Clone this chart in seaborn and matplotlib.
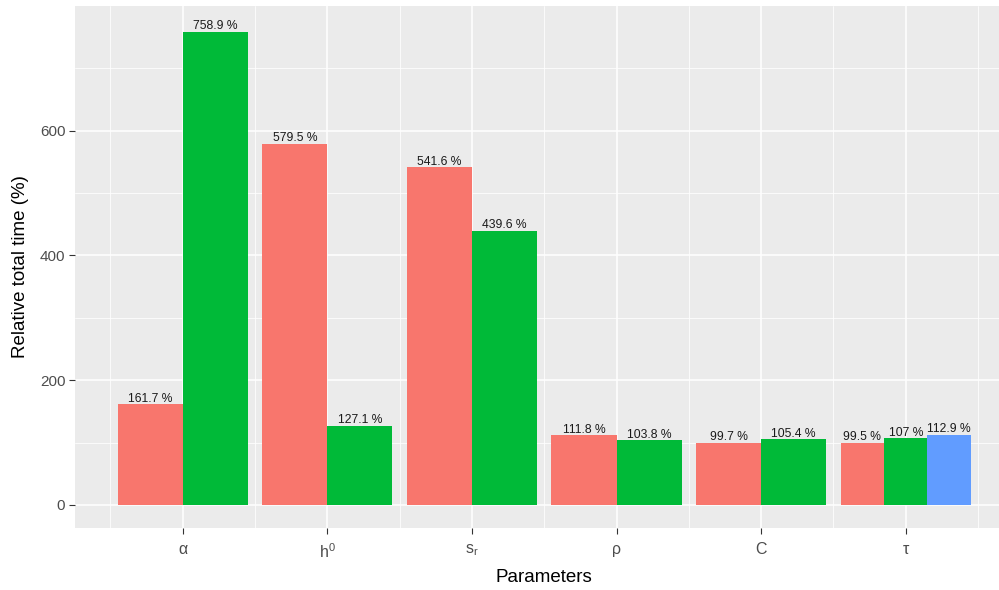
import matplotlib
matplotlib.use("Agg")
import matplotlib.pyplot as plt
import seaborn as sns
import numpy as np
import pandas as pd
from matplotlib.ticker import FixedLocator

# ---- data ----
params = ["α", r"$\mathrm{h}^{0}$", r"$\mathrm{s}_{\mathrm{r}}$", "ρ", "C", "τ"]
series1 = [161.7, 579.5, 541.6, 111.8, 99.7, 99.5]
series2 = [758.9, 127.1, 439.6, 103.8, 105.4, 107.0]
series3 = [None, None, None, None, None, 112.9]
labels1 = ["161.7 %", "579.5 %", "541.6 %", "111.8 %", "99.7 %", "99.5 %"]
labels2 = ["758.9 %", "127.1 %", "439.6 %", "103.8 %", "105.4 %", "107 %"]
labels3 = [None, None, None, None, None, "112.9 %"]
colors = ["#F8766D", "#00BA38", "#619CFF"]

sns.set_theme(style="darkgrid")
plt.rcParams["font.family"] = ["Liberation Sans", "DejaVu Sans"]
plt.rcParams["mathtext.fontset"] = "custom"
plt.rcParams["mathtext.rm"] = "Liberation Sans"
plt.rcParams["mathtext.it"] = "Liberation Sans:italic"

fig = plt.figure(figsize=(9.99, 5.9), dpi=100)
ax = fig.add_axes([75 / 999, 62 / 590, 938.5 / 999, 522 / 590])
ax.set_facecolor("#EBEBEB")

rows = []
for g, (a, b, c) in enumerate(zip(series1, series2, series3)):
    vals = [(a, labels1[g]), (b, labels2[g]), (c, labels3[g])]
    vals = [(v, l, k) for k, (v, l) in enumerate(vals) if v is not None]
    n = len(vals)
    w = 0.9 / n
    for i, (v, l, k) in enumerate(vals):
        x = g + 1 - 0.45 + w * (i + 0.5)
        rows.append(dict(x=x, y=v, w=w, lab=l, col=colors[k]))
df = pd.DataFrame(rows)

ax.bar(df["x"], df["y"], width=df["w"], color=df["col"], zorder=3, linewidth=0)
for _, r in df.iterrows():
    ax.text(r["x"], r["y"] - 1, r["lab"], ha="center", va="bottom",
            fontsize=8.7, color="#1A1A1A", zorder=4)

ax.set_xlim(0.255, 6.745)
ax.set_ylim(-37, 800)
ax.set_xticks(np.arange(1, 7))
ax.set_xticklabels(params)
ax.set_yticks([0, 200, 400, 600])
ax.xaxis.set_minor_locator(FixedLocator(np.arange(0.5, 7, 1)))
ax.yaxis.set_minor_locator(FixedLocator([100, 300, 500, 700]))
ax.grid(which="major", color="white", linewidth=1.1, zorder=0)
ax.grid(which="minor", color="white", linewidth=0.55, zorder=0)
ax.set_axisbelow(True)
for s in ax.spines.values():
    s.set_visible(False)
ax.tick_params(axis="y", which="major", length=4, width=0.8, color="#333333",
               labelcolor="#4D4D4D", labelsize=11, left=True, pad=3)
ax.tick_params(axis="x", which="major", length=4, width=0.8, color="#333333",
               labelcolor="#4D4D4D", labelsize=11.5, bottom=True, pad=6)
ax.tick_params(axis="both", which="minor", length=0)
ax.set_xlabel("Parameters", fontsize=13.5, color="black", labelpad=6)
ax.set_ylabel("Relative total time (%)", fontsize=13.5, color="black", labelpad=8)

fig.savefig("out.png", dpi=100)
